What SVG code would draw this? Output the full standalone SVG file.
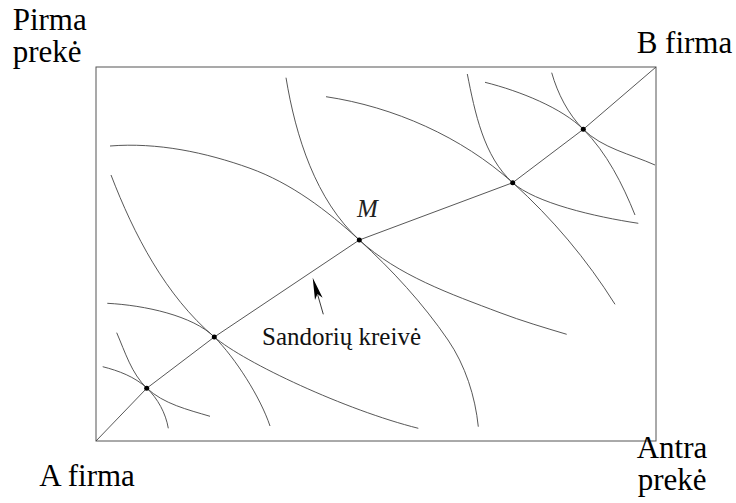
<svg xmlns="http://www.w3.org/2000/svg" width="736" height="503" viewBox="0 0 736 503">
<style>
.ic{fill:none;stroke:#444;stroke-width:0.9}
.cc{fill:none;stroke:#444;stroke-width:0.9}
.dot{fill:#000}
</style>
<rect width="736" height="503" fill="#fff"/>
<g id="box">
<rect x="96" y="67" width="560" height="374" fill="none" stroke="#555" stroke-width="1"/>
</g>
<g id="indifference-curves">
<path id="c1" class="ic" d="M102.7,366.7 C118.5,370.7 134.9,376.8 146.7,388 C157.7,398.5 165.8,413.3 168.3,428.3"/>
<path id="c2" class="ic" d="M116.7,332.7 C125.1,352 131.5,373.5 146.7,388 C163.4,403.9 187.9,409.7 210,416.3"/>
<path id="c3" class="ic" d="M107.3,303.3 C144.7,305.2 193.1,315.8 214.3,337 C235.5,358.2 260.5,397.5 270,426"/>
<path id="c4" class="ic" d="M111,175 C134,234.7 165.5,295.6 214.3,337 C244.8,362.9 346,410.2 418.3,428.3"/>
<path id="c5" class="ic" d="M110,146 C157.2,142.2 205.5,152.3 250,168.3 C291,183.1 327.2,210.5 359.3,240 C392.2,270.1 422.8,303.2 448,340 C465.3,365.3 475.2,396.3 478.3,426.7"/>
<path id="c6" class="ic" d="M286,77.7 C295.7,136.3 315.5,199.8 359.3,240 C398.2,275.7 450.6,294 500,312.7 C521.9,321 544.3,327.6 566.7,334.3"/>
<path id="c7" class="ic" d="M326,96.7 C393.7,106.8 461.8,136.9 512.7,182.7 C552.1,218.2 586.9,259.4 615,304.3"/>
<path id="c8" class="ic" d="M467.3,74 C475,112.6 483.5,156.4 512.7,182.7 C535,202.8 594.8,216.8 638.3,223.3"/>
<path id="c9" class="ic" d="M485,82.3 C520.2,91.1 562.1,108.1 583.3,129.3 C606.8,152.8 622.6,184.1 635,215"/>
<path id="c10" class="ic" d="M551.7,72.7 C557.6,93.5 568,114 583.3,129.3 C602.2,148.2 630.6,154.1 655,165"/>
</g>
<g id="contract-curve">
<polyline class="cc" points="96,441 146.7,388.3 214.3,337 359.3,240 512.7,182.7 583.3,129.3 656,67"/>
</g>
<g id="points">
<circle class="dot" cx="146.7" cy="388.3" r="2.5"/>
<circle class="dot" cx="214.3" cy="337" r="2.5"/>
<circle class="dot" cx="359.3" cy="240" r="2.5"/>
<circle class="dot" cx="512.7" cy="182.7" r="2.5"/>
<circle class="dot" cx="583.3" cy="129.3" r="2.5"/>
</g>
<g id="connectors">
<line x1="323.3" y1="314.3" x2="317.6" y2="294.5" stroke="#222" stroke-width="0.9"/>
<polygon points="312.7,277.7 322.6,297.7 317.4,294 315,299.9" fill="#000"/>
</g>
<g id="labels" font-family="Liberation Serif, Times New Roman, serif" fill="#000">
<text font-size="31" x="12.7" y="30">Pirma</text>
<text font-size="31" x="12.7" y="62">prekė</text>
<text font-size="31" x="636.7" y="52.7">B firma</text>
<text font-size="31" x="39.3" y="486">A firma</text>
<text font-size="31" x="636.7" y="458">Antra</text>
<text font-size="31" x="637.7" y="490">prekė</text>
<text x="357" y="217" font-style="italic" font-size="25" fill="#222">M</text>
<text font-size="25" x="262" y="345" fill="#111">Sandorių kreivė</text>
</g>
</svg>
